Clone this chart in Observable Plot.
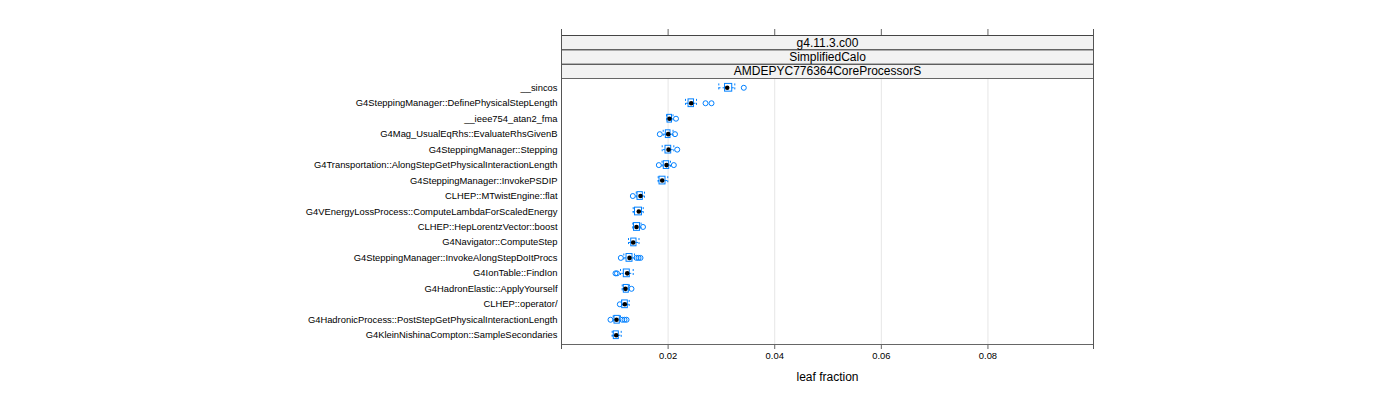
<!DOCTYPE html>
<html>
<head>
<meta charset="utf-8">
<script src="https://cdn.jsdelivr.net/npm/d3@7"></script>
<script src="https://cdn.jsdelivr.net/npm/@observablehq/plot@0.6"></script>
<style>
  body { margin: 0; background: white; }
</style>
</head>
<body>
<div id="chart"></div>
<script>
const names = [
  "__sincos",
  "G4SteppingManager::DefinePhysicalStepLength",
  "__ieee754_atan2_fma",
  "G4Mag_UsualEqRhs::EvaluateRhsGivenB",
  "G4SteppingManager::Stepping",
  "G4Transportation::AlongStepGetPhysicalInteractionLength",
  "G4SteppingManager::InvokePSDIP",
  "CLHEP::MTwistEngine::flat",
  "G4VEnergyLossProcess::ComputeLambdaForScaledEnergy",
  "CLHEP::HepLorentzVector::boost",
  "G4Navigator::ComputeStep",
  "G4SteppingManager::InvokeAlongStepDoItProcs",
  "G4IonTable::FindIon",
  "G4HadronElastic::ApplyYourself",
  "CLHEP::operator/",
  "G4HadronicProcess::PostStepGetPhysicalInteractionLength",
  "G4KleinNishinaCompton::SampleSecondaries"
];
const lo  = [0.02951, 0.02326, 0.01970, 0.01908, 0.01889, 0.01886, 0.01814, 0.01402, 0.01345, 0.01338, 0.01257, 0.01169, 0.01107, 0.01139, 0.01126, 0.00970, 0.00951];
const q1  = [0.03068, 0.02383, 0.01989, 0.01957, 0.01951, 0.01919, 0.01839, 0.01426, 0.01379, 0.01360, 0.01308, 0.01220, 0.01169, 0.01169, 0.01139, 0.00994, 0.00981];
const med = [0.03109, 0.02433, 0.02026, 0.02002, 0.02008, 0.01970, 0.01889, 0.01482, 0.01450, 0.01407, 0.01345, 0.01276, 0.01233, 0.01201, 0.01188, 0.01032, 0.01026];
const q3  = [0.03203, 0.02486, 0.02073, 0.02045, 0.02058, 0.02021, 0.01951, 0.01525, 0.01510, 0.01473, 0.01407, 0.01332, 0.01281, 0.01263, 0.01244, 0.01094, 0.01075];
const hi  = [0.03251, 0.02533, 0.02092, 0.02092, 0.02107, 0.02045, 0.01994, 0.01557, 0.01533, 0.01492, 0.01454, 0.01370, 0.01345, 0.01276, 0.01270, 0.01107, 0.01120];
const outliers = [
  [0.03420],
  [0.02702, 0.02814],
  [0.02148],
  [0.01844, 0.02129],
  [0.02171],
  [0.01826, 0.02107],
  [],
  [0.01338],
  [],
  [0.01529],
  [],
  [0.01113, 0.01407, 0.01445, 0.01482],
  [0.01013, 0.01041],
  [0.01313],
  [0.01094],
  [0.00919, 0.01139, 0.01182, 0.01220],
  []
];
const strips = ["g4.11.3.c00", "SimplifiedCalo", "AMDEPYC776364CoreProcessorS"];
const xTicks = [0.02, 0.04, 0.06, 0.08];
const xDomain = [0, 0.0998];
const xLabel = "leaf fraction";

const blue = "#0080ff";
const data = names.map((n, i) => ({name: n, lo: lo[i], q1: q1[i], med: med[i], q3: q3[i], hi: hi[i]}));
const outs = names.flatMap((n, i) => outliers[i].map(v => ({name: n, value: v})));

const chart = Plot.plot({
  width: 1400,
  height: 400,
  marginLeft: 561,
  marginRight: 307,
  marginTop: 78,
  marginBottom: 56,
  style: {fontFamily: "'Liberation Sans', Arial, sans-serif", fontSize: "9.4px", color: "#000", background: "white"},
  x: {domain: xDomain},
  y: {type: "band", domain: names, paddingInner: 0.5, paddingOuter: 0.35, round: false},
  marks: [
    Plot.ruleX(xTicks, {stroke: "#e6e6e6"}),
    // strips
    Plot.frame({fill: "#f2f2f2", stroke: "#444", insetTop: -43, insetBottom: 294.6}),
    Plot.frame({fill: "#f2f2f2", stroke: "#444", insetTop: -28.6, insetBottom: 280.2}),
    Plot.frame({fill: "#f2f2f2", stroke: "#444", insetTop: -14.2, insetBottom: 266}),
    Plot.text([strips[0]], {text: d => d, frameAnchor: "top", lineAnchor: "middle", dy: -35.8, fontSize: 12}),
    Plot.text([strips[1]], {text: d => d, frameAnchor: "top", lineAnchor: "middle", dy: -21.4, fontSize: 12}),
    Plot.text([strips[2]], {text: d => d, frameAnchor: "top", lineAnchor: "middle", dy: -7.1, fontSize: 12}),
    Plot.frame({stroke: "#666"}),
    // top ticks
    Plot.ruleX(xTicks, {stroke: "#666", insetTop: -49, insetBottom: 309}),
    // panel side lines extending
    Plot.ruleX(xDomain, {stroke: "#555", insetTop: -49, insetBottom: -5}),
    Plot.axisX({ticks: xTicks, tickSize: 5, tickPadding: 3, tickFormat: d => d.toFixed(2), label: null, stroke: "#666"}),
    Plot.axisY({tickSize: 0, tickPadding: 4, label: null}),
    Plot.text([xLabel], {text: d => d, frameAnchor: "bottom", lineAnchor: "middle", dy: 33, fontSize: 12}),
    // boxes
    Plot.ruleY(data, {y: "name", x1: "q1", x2: "lo", stroke: blue, strokeDasharray: "2,2"}),
    Plot.ruleY(data, {y: "name", x1: "q3", x2: "hi", stroke: blue, strokeDasharray: "2,2"}),
    Plot.tickX(data, {x: "lo", y: "name", stroke: blue, strokeDasharray: "2,2"}),
    Plot.tickX(data, {x: "hi", y: "name", stroke: blue, strokeDasharray: "2,2"}),
    Plot.barX(data, {x1: "q1", x2: "q3", y: "name", fill: "none", stroke: blue}),
    Plot.dot(outs, {x: "value", y: "name", stroke: blue, fill: "none", r: 2.5, strokeWidth: 1}),
    Plot.dot(data, {x: "med", y: "name", fill: "black", r: 2.3})
  ]
});
document.getElementById("chart").appendChild(chart);
</script>
</body>
</html>
